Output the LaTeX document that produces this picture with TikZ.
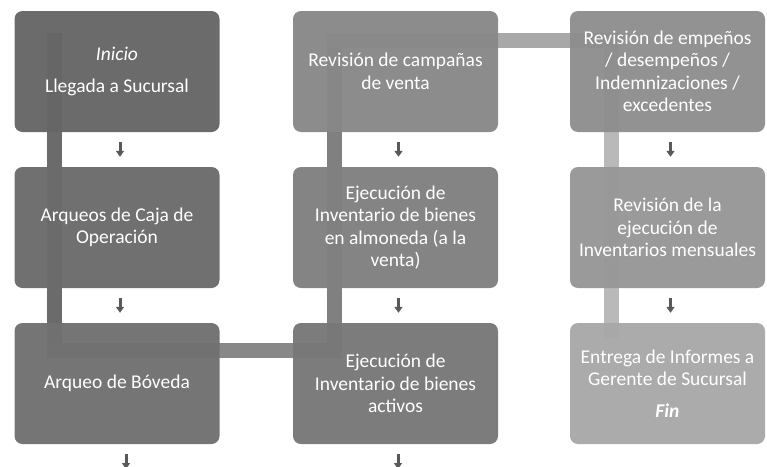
\documentclass[tikz,border=0pt]{standalone}
\usepackage{fontspec}
\setmainfont{Carlito}
\usetikzlibrary{arrows.meta}

\definecolor{gUno}{HTML}{666666}
\definecolor{gDos}{HTML}{6B6B6B}
\definecolor{gTres}{HTML}{717171}
\definecolor{gCuatro}{HTML}{787878}
\definecolor{gCinco}{HTML}{808080}
\definecolor{gSeis}{HTML}{888888}
\definecolor{gSiete}{HTML}{8E8E8E}
\definecolor{gOcho}{HTML}{979797}
\definecolor{gNueve}{HTML}{A8A8A8}
\definecolor{flechagris}{HTML}{595959}

\begin{document}
\begin{tikzpicture}[x=1pt, y=-1pt,
paso/.style={rounded corners=8pt, minimum width=205pt, minimum height=121pt,
  align=center, text=white, font=\fontsize{19.5}{22.5}\selectfont,
  fill opacity=0.97, text opacity=1},
flecha/.style={draw=flechagris, line width=3pt, -{Triangle[width=8pt,length=6pt]},
  shorten <=10pt, shorten >=10pt},
banda/.style={line width=15pt, line cap=rect}]

\useasboundingbox (0,0) rectangle (767,466);

\coordinate (t0) at (54.5,40);
\coordinate (t1) at (54.5,350);
\coordinate (t2) at (334,350);
\coordinate (t3) at (334,40);
\coordinate (t4) at (611,40);
\coordinate (t5) at (611,330);

\draw[banda, draw=gDos] (t0) -- (t1);
\draw[banda, draw=gSeis] (t1) -- (t2);
\draw[banda, draw=gCinco] (t2) -- (t3);
\draw[banda, draw=gNueve] (t3) -- (t4);
\draw[banda, draw=gNueve!80!white] (t4) -- (t5);

\node[paso, fill=gUno] (lleg) at (117,71.5) {\textit{Inicio}\\[9pt]Llegada a Sucursal};
\node[paso, fill=gDos] (caja) at (117,227.5) {Arqueos de Caja de\\Operación};
\node[paso, fill=gTres] (bove) at (117,383.5) {Arqueo de Bóveda};

\node[paso, fill=gSeis] (camp) at (395.5,71.5) {Revisión de campañas\\de venta};
\node[paso, fill=gCinco] (almo) at (395.5,227.5) {Ejecución de\\Inventario de bienes\\en almoneda (a la\\venta)};
\node[paso, fill=gCuatro] (acti) at (395.5,383.5) {Ejecución de\\Inventario de bienes\\activos};

\node[paso, fill=gSiete, minimum width=195pt] (empe) at (667.5,71.5) {Revisión de empeños\\/ desempeños /\\Indemnizaciones /\\excedentes};
\node[paso, fill=gOcho, minimum width=195pt] (ejec) at (667.5,227.5) {Revisión de la\\ejecución de\\Inventarios mensuales};
\node[paso, fill=gNueve, minimum width=195pt] (info) at (667.5,383.5) {Entrega de Informes a\\Gerente de Sucursal\\[9pt]\textbf{\textit{Fin}}};

\foreach \a/\b in {lleg/caja, caja/bove, camp/almo, almo/acti, empe/ejec, ejec/info}{
\draw[flecha] ([xshift=3pt]\a.south) -- ([xshift=3pt]\b.north);
}

\coordinate (abajo1) at (126,479);
\coordinate (abajo2) at (398,479);
\draw[flecha] (bove.south -| abajo1) -- (abajo1);
\draw[flecha] (acti.south -| abajo2) -- (abajo2);

\end{tikzpicture}
\end{document}
